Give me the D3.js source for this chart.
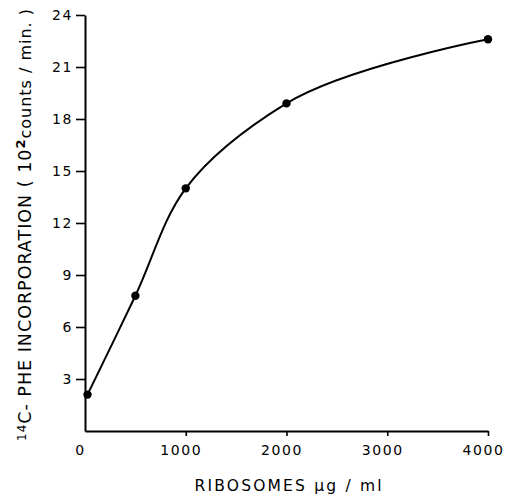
<!DOCTYPE html>
<html><head><meta charset="utf-8">
<script src="https://cdn.jsdelivr.net/npm/d3@7"></script>
<style>html,body{margin:0;padding:0;background:#fff;}svg{display:block;}</style>
</head><body>
<script>
const ribosomes = [25, 500, 1000, 2000, 4000];
const incorporation = [2.1, 7.8, 14.0, 18.9, 22.6];
const xTicks = [0, 1000, 2000, 3000, 4000];
const yTicks = [3, 6, 9, 12, 15, 18, 21, 24];

const W = 510, H = 496;
const svg = d3.select("body").append("svg").attr("width", W).attr("height", H);
const font = "'DejaVu Sans', sans-serif";

const x = d3.scaleLinear().domain([0, 4000]).range([85, 488]);
const y = d3.scaleLinear().domain([0, 24]).range([431, 15]);

const xAxis = svg.append("g").attr("transform", "translate(0,431)")
  .call(d3.axisBottom(x).tickValues(xTicks).tickFormat(d3.format("d")).tickSize(5).tickPadding(9).tickSizeOuter(0));
const yAxis = svg.append("g").attr("transform", "translate(85,0)")
  .call(d3.axisLeft(y).tickValues(yTicks).tickFormat(d3.format("d")).tickSize(9).tickPadding(3).tickSizeOuter(0));
[xAxis, yAxis].forEach(g => {
  g.select(".domain").attr("stroke", "#000").attr("stroke-width", 2);
  g.selectAll(".tick line").attr("stroke", "#000").attr("stroke-width", 1.6);
  g.selectAll(".tick text").attr("fill", "#000").style("font-family", font)
    .style("font-size", "14px").style("letter-spacing", "1.6px");
});
xAxis.selectAll(".tick text").attr("dx", -5);
xAxis.selectAll(".tick").filter(d => d === 0).select("line").remove();

const pts = ribosomes.map((r, i) => [r, incorporation[i]]);
svg.append("path").datum(pts)
  .attr("fill", "none").attr("stroke", "#000").attr("stroke-width", 2)
  .attr("d", d3.line().x(d => x(d[0])).y(d => y(d[1])).curve(d3.curveCatmullRom.alpha(1)));
svg.append("g").selectAll("circle").data(pts).join("circle")
  .attr("cx", d => x(d[0])).attr("cy", d => y(d[1])).attr("r", 4.2).attr("fill", "#000");

svg.append("text").attr("x", 288).attr("y", 491).attr("text-anchor", "middle")
  .attr("textLength", 187).attr("lengthAdjust", "spacing")
  .style("font-family", font).style("font-size", "15.5px").attr("fill", "#000")
  .text("RIBOSOMES  μg / ml");

const yl = svg.append("text").attr("transform", "translate(31,225) rotate(-90)")
  .attr("text-anchor", "middle").attr("textLength", 432).attr("lengthAdjust", "spacing")
  .style("font-family", font).style("font-size", "17.5px").attr("fill", "#000");
yl.append("tspan").attr("baseline-shift", "45%").style("font-size", "12px").text("14");
yl.append("tspan").text("C- PHE  INCORPORATION  ( 10");
yl.append("tspan").attr("baseline-shift", "50%").style("font-size", "13px").style("font-weight", "bold").text("2");
yl.append("tspan").style("font-size", "16px").text("counts / min. )");
</script>
</body></html>
